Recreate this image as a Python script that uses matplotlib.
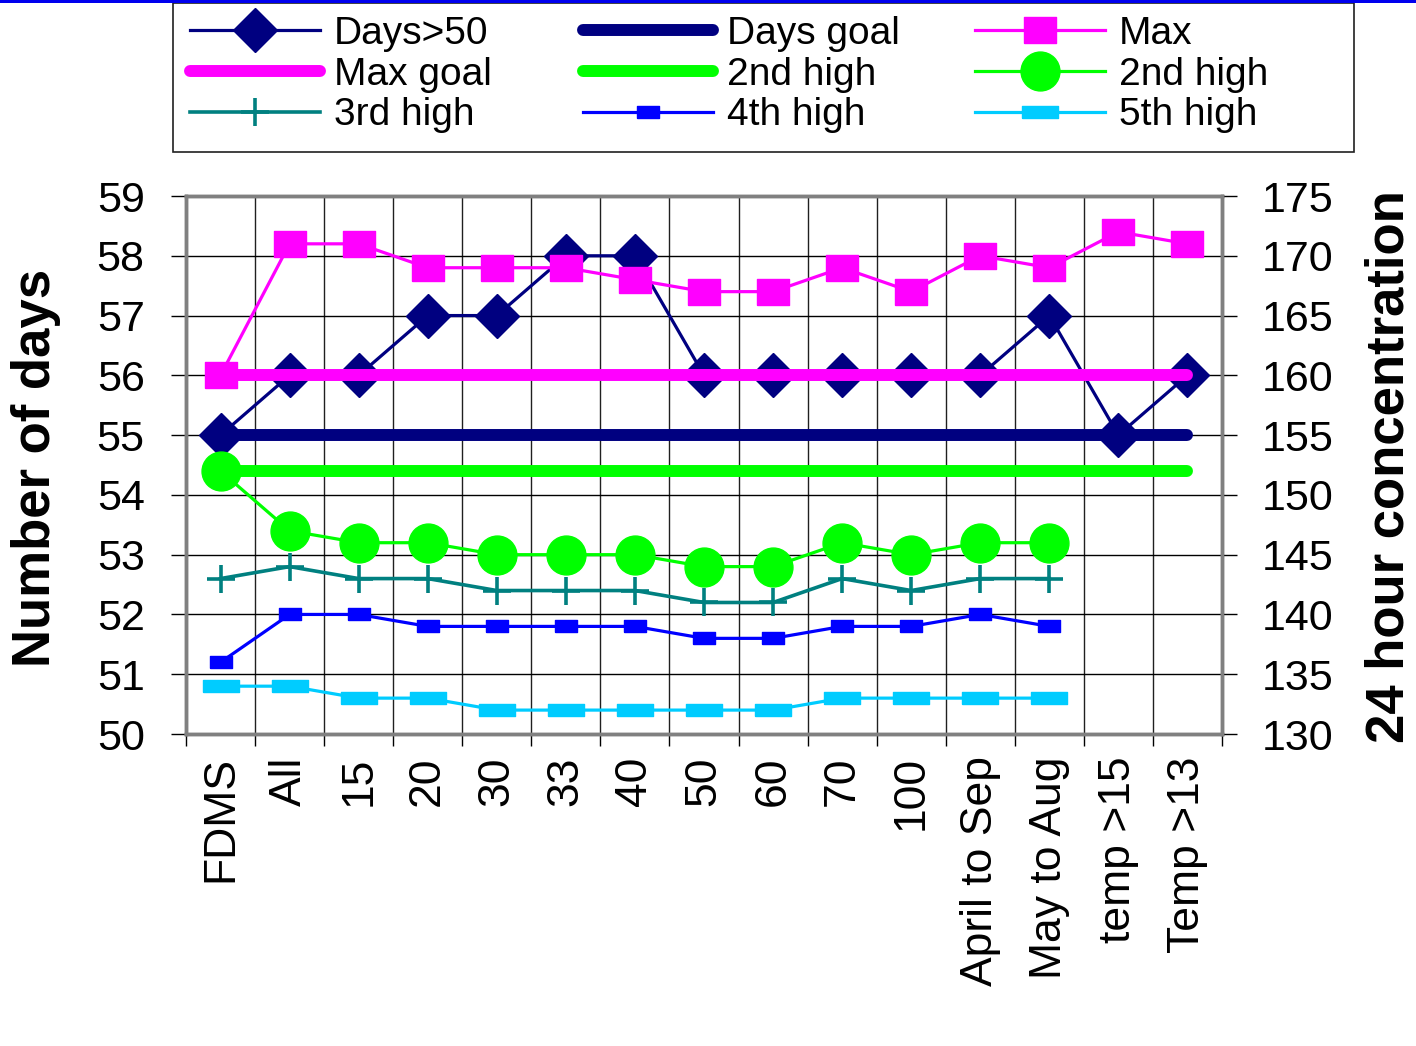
import numpy as np
import matplotlib
matplotlib.use("Agg")
import matplotlib.pyplot as plt
from matplotlib.patches import Rectangle

plt.rcParams['font.family'] = ['Liberation Sans', 'DejaVu Sans']

# ---- data -------------------------------------------------------------
categories = ["FDMS", "All", "15", "20", "30", "33", "40", "50", "60", "70",
              "100", "April to Sep", "May to Aug", "temp >15", "Temp >13"]

days_over_50 = [55, 56, 56, 57, 57, 58, 58, 56, 56, 56, 56, 56, 57, 55, 56]
days_goal = 55

max_conc = [160, 171, 171, 169, 169, 169, 168, 167, 167, 169, 167, 170, 169, 172, 171]
max_goal = 160
second_goal = 152

nan = np.nan
second_high = [152, 147, 146, 146, 145, 145, 145, 144, 144, 146, 145, 146, 146, nan, nan]
third_high = [143, 144, 143, 143, 142, 142, 142, 141, 141, 143, 142, 143, 143, nan, nan]
fourth_high = [136, 140, 140, 139, 139, 139, 139, 138, 138, 139, 139, 140, 139, nan, nan]
fifth_high = [134, 134, 133, 133, 132, 132, 132, 132, 132, 133, 133, 133, 133, nan, nan]

left_ticks = list(range(50, 60))
right_ticks = list(range(130, 180, 5))

# ---- figure -----------------------------------------------------------
W, H = 1416, 1046
fig = plt.figure(figsize=(W / 100, H / 100), dpi=100)


def fx(px):
    return px / W


def fy(py):
    return 1 - py / H


ax = fig.add_axes([fx(186), fy(734), fx(1222) - fx(186), fy(196) - fy(734)])
ax2 = ax.twinx()

x = np.arange(len(categories))
n = len(categories)

NAVY = "#000080"
MAGENTA = "#FF00FF"
GREEN = "#00FF00"
TEAL = "#008080"
BLUE = "#0000FF"
SKY = "#00CCFF"


def rect_marker(aspect):
    return [(-1, -aspect), (1, -aspect), (1, aspect), (-1, aspect), (-1, -aspect)]


# left axis: number of days
l_days, = ax.plot(x, days_over_50, color=NAVY, lw=2.3, marker="D", ms=22.5,
                  label="Days>50", zorder=3)
l_dgoal, = ax.plot(x, [days_goal] * n, color=NAVY, lw=8.6,
                   solid_capstyle="round", label="Days goal", zorder=2)

# right axis: concentrations
l_max, = ax2.plot(x, max_conc, color=MAGENTA, lw=2.3, marker=rect_marker(0.82),
                  ms=23.5, label="Max", zorder=3)
l_mgoal, = ax2.plot(x, [max_goal] * n, color=MAGENTA, lw=8.6,
                    solid_capstyle="round", label="Max goal", zorder=2)
l_2goal, = ax2.plot(x, [second_goal] * n, color=GREEN, lw=8.6,
                    solid_capstyle="round", label="2nd high", zorder=2)
l_2nd, = ax2.plot(x, second_high, color=GREEN, lw=2.3, marker="o", ms=28,
                  label="2nd high", zorder=3)
l_3rd, = ax2.plot(x, third_high, color=TEAL, lw=2.6, marker="+", ms=20, mew=2.6,
                  label="3rd high", zorder=3)
l_4th, = ax2.plot(x, fourth_high, color=BLUE, lw=2.3, marker=rect_marker(0.52),
                  ms=16.5, label="4th high", zorder=3)
l_5th, = ax2.plot(x, fifth_high, color=SKY, lw=2.3, marker=rect_marker(0.32),
                  ms=26.5, label="5th high", zorder=3)

# axes ranges and ticks
ax.set_xlim(-0.5, n - 0.5)
ax.set_ylim(left_ticks[0], left_ticks[-1])
ax2.set_ylim(right_ticks[0], right_ticks[-1])

ax.set_xticks(x)
ax.set_xticklabels(categories, rotation=90, va="top", ha="center", fontsize=32)
ax.set_xticks(np.arange(-0.5, n, 1), minor=True)
ax.tick_params(axis="x", which="major", length=0, pad=16)
ax.tick_params(axis="x", which="minor", length=8.6, width=1, direction="out",
               color="black")

ax.set_yticks(left_ticks)
ax.tick_params(axis="y", which="major", length=10.8, width=1, direction="out",
               pad=19, labelsize=31, color="black")
ax2.set_yticks(right_ticks)
ax2.tick_params(axis="y", which="major", length=10.8, width=1, direction="out",
                pad=18, labelsize=31, color="black")

ax.grid(True, which="major", axis="y", color="black", lw=1)
ax.grid(True, which="minor", axis="x", color="#202020", lw=1)
ax.set_axisbelow(True)

for a in (ax, ax2):
    for s in a.spines.values():
        s.set_color("#808080")
        s.set_linewidth(2.5)

# axis titles
fig.text(fx(50), fy(468), "Number of days", rotation=90, rotation_mode="anchor",
         ha="center", va="baseline", fontsize=38, fontweight="bold")
fig.text(fx(1404), fy(467), "24 hour concentration", rotation=90,
         rotation_mode="anchor", ha="center", va="baseline", fontsize=38,
         fontweight="bold")

# legend: three columns inside one box
fig.add_artist(Rectangle((fx(173), fy(152)), fx(1354) - fx(173), fy(3) - fy(152),
                         transform=fig.transFigure, fill=False, edgecolor="#202020",
                         lw=1.2))
columns = [
    (190, [l_days, l_mgoal, l_3rd]),
    (583, [l_dgoal, l_2goal, l_4th]),
    (975, [l_max, l_2nd, l_5th]),
]
for left_px, handles in columns:
    fig.legend(handles=handles, labels=[h.get_label() for h in handles],
               loc="upper left", bbox_to_anchor=(fx(left_px), fy(16)),
               bbox_transform=fig.transFigure, frameon=False, fontsize=28,
               borderpad=0, borderaxespad=0, handlelength=3.35,
               handletextpad=0.35, labelspacing=0.12, numpoints=1)

# band along the top edge of the page
fig.add_artist(Rectangle((0, fy(3)), 1, fy(0) - fy(3), transform=fig.transFigure,
                         color="#0000EE", lw=0))

fig.savefig("out.png", dpi=100)
